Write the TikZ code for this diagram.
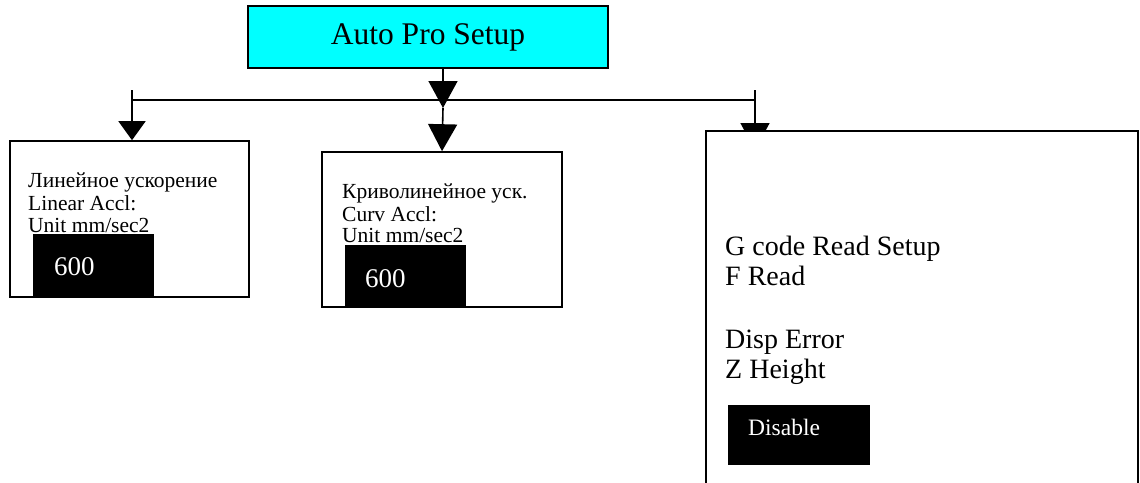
\documentclass[tikz,border=0pt]{standalone}
\usepackage{fontspec}
\setmainfont{Liberation Serif}
\usetikzlibrary{arrows.meta}
\definecolor{titlecyan}{RGB}{0,255,255}
\begin{document}
\begin{tikzpicture}[x=1pt,y=-1pt,
  frame/.style={draw=black,line width=1.6pt,fill=white,inner sep=0pt},
  valbox/.style={fill=black,inner sep=0pt},
  link/.style={line width=1.6pt},
  head/.style={line width=1.6pt,-{Triangle[width=29pt,length=27pt]}},
  shorthead/.style={line width=1.6pt,-{Triangle[width=27pt,length=19pt]}},
  lbl/.style={anchor=base west,inner sep=0pt,font=\fontsize{21.5}{22}\selectfont},
  biglbl/.style={anchor=base west,inner sep=0pt,font=\fontsize{28}{30}\selectfont},
  vallbl/.style={anchor=base west,inner sep=0pt,text=white,font=\fontsize{27}{28}\selectfont},
]
\useasboundingbox (0,0) rectangle (1140,482);
\clip (0,0) rectangle (1140,482);

% title box
\node[frame,fill=titlecyan,minimum width=360pt,minimum height=62pt,
      font=\fontsize{31.5}{34}\selectfont] (top) at (428,37) {Auto Pro Setup};

% distribution bus
\coordinate (hub) at (443,108);
\coordinate (busL) at (132,90);
\coordinate (busR) at (755,90);
\coordinate (barL) at (132,100);
\coordinate (barR) at (755,100);
\coordinate (rtip) at (755,150);
\draw[link] (barL) -- (barR);
\draw[head] (top.south -| hub) -- (hub);

% child box centres
\coordinate (lc) at (129.5,219);
\coordinate (mc) at (442,229.5);
\draw[head] (busR) -- (rtip);

% left box
\node[frame,minimum width=239pt,minimum height=156pt] (lbox) at (lc) {};
\draw[shorthead] (busL) -- (lbox.north -| busL);
\node[lbl] (l1) at (28,187) {Линейное ускорение};
\node[lbl] (l2) at (28,210) {Linear Accl:};
\node[lbl] (l3) at (28,232) {Unit mm/sec2};
\node[valbox,minimum width=121pt,minimum height=63pt] (lval) at (93.5,265.5) {};
\node[vallbl] (lvt) at (54,275) {600};

% middle box
\node[frame,minimum width=240pt,minimum height=155pt] (mbox) at (mc) {};
\draw[head] (hub) -- (mbox.north);
\node[lbl] (m1) at (342,198) {Криволинейное уск.};
\node[lbl] (m2) at (342,221) {Curv Accl:};
\node[lbl] (m3) at (342,242) {Unit mm/sec2};
\node[valbox,minimum width=121pt,minimum height=62pt] (mval) at (405.5,276) {};
\node[vallbl] (mvt) at (365,287) {600};

% right box (runs past the lower edge)
\node[frame,minimum width=432pt,minimum height=380pt] (rbox) at (922,321) {};
\node[biglbl] (r1) at (725,255) {G code Read Setup};
\node[biglbl] (r2) at (725,285) {F Read};
\node[biglbl] (r3) at (725,348) {Disp Error};
\node[biglbl] (r4) at (725,378) {Z Height};
\node[valbox,minimum width=142pt,minimum height=60pt] (rval) at (799,435) {};
\node[anchor=base west,inner sep=0pt,text=white,font=\fontsize{23.5}{25}\selectfont] (rvt) at (748,435) {Disable};
\end{tikzpicture}
\end{document}
